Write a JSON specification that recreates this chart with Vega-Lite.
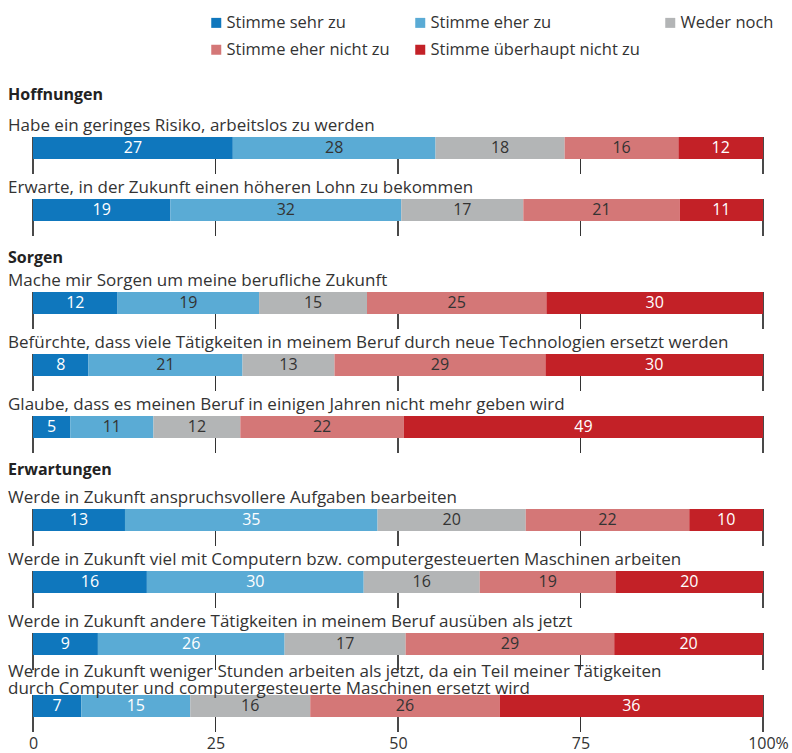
{
  "$schema": "https://vega.github.io/schema/vega-lite/v6.json",
  "background": "white",
  "padding": {"left": 8, "top": 14, "right": 3, "bottom": 5},
  "config": {
    "view": {"stroke": null},
    "font": "Open Sans",
    "text": {"font": "Open Sans", "fontSize": 16},
    "title": {"font": "Open Sans"}
  },
  "datasets": {
    "answers": [
      {"g": "Hoffnungen", "q": "Habe ein geringes Risiko, arbeitslos zu werden", "a": "Stimme sehr zu", "n": 1, "v": 27.4},
      {"g": "Hoffnungen", "q": "Habe ein geringes Risiko, arbeitslos zu werden", "a": "Stimme eher zu", "n": 2, "v": 27.8},
      {"g": "Hoffnungen", "q": "Habe ein geringes Risiko, arbeitslos zu werden", "a": "Weder noch", "n": 3, "v": 17.7},
      {"g": "Hoffnungen", "q": "Habe ein geringes Risiko, arbeitslos zu werden", "a": "Stimme eher nicht zu", "n": 4, "v": 15.6},
      {"g": "Hoffnungen", "q": "Habe ein geringes Risiko, arbeitslos zu werden", "a": "Stimme überhaupt nicht zu", "n": 5, "v": 11.6},
      {"g": "Hoffnungen", "q": "Erwarte, in der Zukunft einen höheren Lohn zu bekommen", "a": "Stimme sehr zu", "n": 1, "v": 18.8},
      {"g": "Hoffnungen", "q": "Erwarte, in der Zukunft einen höheren Lohn zu bekommen", "a": "Stimme eher zu", "n": 2, "v": 31.6},
      {"g": "Hoffnungen", "q": "Erwarte, in der Zukunft einen höheren Lohn zu bekommen", "a": "Weder noch", "n": 3, "v": 16.7},
      {"g": "Hoffnungen", "q": "Erwarte, in der Zukunft einen höheren Lohn zu bekommen", "a": "Stimme eher nicht zu", "n": 4, "v": 21.4},
      {"g": "Hoffnungen", "q": "Erwarte, in der Zukunft einen höheren Lohn zu bekommen", "a": "Stimme überhaupt nicht zu", "n": 5, "v": 11.4},
      {"g": "Sorgen", "q": "Mache mir Sorgen um meine berufliche Zukunft", "a": "Stimme sehr zu", "n": 1, "v": 11.6},
      {"g": "Sorgen", "q": "Mache mir Sorgen um meine berufliche Zukunft", "a": "Stimme eher zu", "n": 2, "v": 19.4},
      {"g": "Sorgen", "q": "Mache mir Sorgen um meine berufliche Zukunft", "a": "Weder noch", "n": 3, "v": 14.8},
      {"g": "Sorgen", "q": "Mache mir Sorgen um meine berufliche Zukunft", "a": "Stimme eher nicht zu", "n": 4, "v": 24.6},
      {"g": "Sorgen", "q": "Mache mir Sorgen um meine berufliche Zukunft", "a": "Stimme überhaupt nicht zu", "n": 5, "v": 29.7},
      {"g": "Sorgen", "q": "Befürchte, dass viele Tätigkeiten in meinem Beruf durch neue Technologien ersetzt werden", "a": "Stimme sehr zu", "n": 1, "v": 7.6},
      {"g": "Sorgen", "q": "Befürchte, dass viele Tätigkeiten in meinem Beruf durch neue Technologien ersetzt werden", "a": "Stimme eher zu", "n": 2, "v": 21.1},
      {"g": "Sorgen", "q": "Befürchte, dass viele Tätigkeiten in meinem Beruf durch neue Technologien ersetzt werden", "a": "Weder noch", "n": 3, "v": 12.6},
      {"g": "Sorgen", "q": "Befürchte, dass viele Tätigkeiten in meinem Beruf durch neue Technologien ersetzt werden", "a": "Stimme eher nicht zu", "n": 4, "v": 28.9},
      {"g": "Sorgen", "q": "Befürchte, dass viele Tätigkeiten in meinem Beruf durch neue Technologien ersetzt werden", "a": "Stimme überhaupt nicht zu", "n": 5, "v": 29.8},
      {"g": "Sorgen", "q": "Glaube, dass es meinen Beruf in einigen Jahren nicht mehr geben wird", "a": "Stimme sehr zu", "n": 1, "v": 5.1},
      {"g": "Sorgen", "q": "Glaube, dass es meinen Beruf in einigen Jahren nicht mehr geben wird", "a": "Stimme eher zu", "n": 2, "v": 11.4},
      {"g": "Sorgen", "q": "Glaube, dass es meinen Beruf in einigen Jahren nicht mehr geben wird", "a": "Weder noch", "n": 3, "v": 11.9},
      {"g": "Sorgen", "q": "Glaube, dass es meinen Beruf in einigen Jahren nicht mehr geben wird", "a": "Stimme eher nicht zu", "n": 4, "v": 22.4},
      {"g": "Sorgen", "q": "Glaube, dass es meinen Beruf in einigen Jahren nicht mehr geben wird", "a": "Stimme überhaupt nicht zu", "n": 5, "v": 49.2},
      {"g": "Erwartungen", "q": "Werde in Zukunft anspruchsvollere Aufgaben bearbeiten", "a": "Stimme sehr zu", "n": 1, "v": 12.6},
      {"g": "Erwartungen", "q": "Werde in Zukunft anspruchsvollere Aufgaben bearbeiten", "a": "Stimme eher zu", "n": 2, "v": 34.6},
      {"g": "Erwartungen", "q": "Werde in Zukunft anspruchsvollere Aufgaben bearbeiten", "a": "Weder noch", "n": 3, "v": 20.3},
      {"g": "Erwartungen", "q": "Werde in Zukunft anspruchsvollere Aufgaben bearbeiten", "a": "Stimme eher nicht zu", "n": 4, "v": 22.4},
      {"g": "Erwartungen", "q": "Werde in Zukunft anspruchsvollere Aufgaben bearbeiten", "a": "Stimme überhaupt nicht zu", "n": 5, "v": 10.1},
      {"g": "Erwartungen", "q": "Werde in Zukunft viel mit Computern bzw. computergesteuerten Maschinen arbeiten", "a": "Stimme sehr zu", "n": 1, "v": 15.6},
      {"g": "Erwartungen", "q": "Werde in Zukunft viel mit Computern bzw. computergesteuerten Maschinen arbeiten", "a": "Stimme eher zu", "n": 2, "v": 29.7},
      {"g": "Erwartungen", "q": "Werde in Zukunft viel mit Computern bzw. computergesteuerten Maschinen arbeiten", "a": "Weder noch", "n": 3, "v": 15.9},
      {"g": "Erwartungen", "q": "Werde in Zukunft viel mit Computern bzw. computergesteuerten Maschinen arbeiten", "a": "Stimme eher nicht zu", "n": 4, "v": 18.6},
      {"g": "Erwartungen", "q": "Werde in Zukunft viel mit Computern bzw. computergesteuerten Maschinen arbeiten", "a": "Stimme überhaupt nicht zu", "n": 5, "v": 20.2},
      {"g": "Erwartungen", "q": "Werde in Zukunft andere Tätigkeiten in meinem Beruf ausüben als jetzt", "a": "Stimme sehr zu", "n": 1, "v": 8.9},
      {"g": "Erwartungen", "q": "Werde in Zukunft andere Tätigkeiten in meinem Beruf ausüben als jetzt", "a": "Stimme eher zu", "n": 2, "v": 25.6},
      {"g": "Erwartungen", "q": "Werde in Zukunft andere Tätigkeiten in meinem Beruf ausüben als jetzt", "a": "Weder noch", "n": 3, "v": 16.6},
      {"g": "Erwartungen", "q": "Werde in Zukunft andere Tätigkeiten in meinem Beruf ausüben als jetzt", "a": "Stimme eher nicht zu", "n": 4, "v": 28.6},
      {"g": "Erwartungen", "q": "Werde in Zukunft andere Tätigkeiten in meinem Beruf ausüben als jetzt", "a": "Stimme überhaupt nicht zu", "n": 5, "v": 20.4},
      {"g": "Erwartungen", "q": "Werde in Zukunft weniger Stunden arbeiten als jetzt, da ein Teil meiner Tätigkeiten\ndurch Computer und computergesteuerte Maschinen ersetzt wird", "a": "Stimme sehr zu", "n": 1, "v": 6.6},
      {"g": "Erwartungen", "q": "Werde in Zukunft weniger Stunden arbeiten als jetzt, da ein Teil meiner Tätigkeiten\ndurch Computer und computergesteuerte Maschinen ersetzt wird", "a": "Stimme eher zu", "n": 2, "v": 14.9},
      {"g": "Erwartungen", "q": "Werde in Zukunft weniger Stunden arbeiten als jetzt, da ein Teil meiner Tätigkeiten\ndurch Computer und computergesteuerte Maschinen ersetzt wird", "a": "Weder noch", "n": 3, "v": 16.4},
      {"g": "Erwartungen", "q": "Werde in Zukunft weniger Stunden arbeiten als jetzt, da ein Teil meiner Tätigkeiten\ndurch Computer und computergesteuerte Maschinen ersetzt wird", "a": "Stimme eher nicht zu", "n": 4, "v": 25.9},
      {"g": "Erwartungen", "q": "Werde in Zukunft weniger Stunden arbeiten als jetzt, da ein Teil meiner Tätigkeiten\ndurch Computer und computergesteuerte Maschinen ersetzt wird", "a": "Stimme überhaupt nicht zu", "n": 5, "v": 36.0}
    ]
  },
  "vconcat": [
    {
      "width": 730,
      "height": {"step": 62},
      "data": {"name": "answers"},
      "transform": [{"filter": "datum.g === 'Hoffnungen'"}],
      "title": {"text": "Hoffnungen", "anchor": "start", "frame": "group", "dx": -25, "dy": 17, "offset": 11, "baseline": "alphabetic", "fontSize": 16, "fontWeight": "bold", "color": "#222222"},
      "encoding": {"y": {"field": "q", "type": "nominal", "sort": null, "axis": null, "scale": {"paddingInner": 0, "paddingOuter": 0}}},
      "layer": [
        {"mark": {"type": "tick", "orient": "vertical", "size": 37, "thickness": 1, "color": "#333333", "yOffset": 14.5}, "encoding": {"x": {"datum": 0, "type": "quantitative", "axis": null}}},
        {"mark": {"type": "tick", "orient": "vertical", "size": 37, "thickness": 1, "color": "#333333", "yOffset": 14.5}, "encoding": {"x": {"datum": 0.25, "type": "quantitative", "axis": null}}},
        {"mark": {"type": "tick", "orient": "vertical", "size": 37, "thickness": 1, "color": "#333333", "yOffset": 14.5}, "encoding": {"x": {"datum": 0.5, "type": "quantitative", "axis": null}}},
        {"mark": {"type": "tick", "orient": "vertical", "size": 37, "thickness": 1, "color": "#333333", "yOffset": 14.5}, "encoding": {"x": {"datum": 0.75, "type": "quantitative", "axis": null}}},
        {"mark": {"type": "tick", "orient": "vertical", "size": 37, "thickness": 1, "color": "#333333", "yOffset": 14.5}, "encoding": {"x": {"datum": 1, "type": "quantitative", "axis": null}}},
        {
          "mark": {"type": "bar", "height": 22, "yOffset": 7},
          "encoding": {
            "x": {"field": "v", "type": "quantitative", "stack": "normalize", "scale": {"domain": [0, 1], "nice": false}, "axis": null},
            "order": {"field": "n"},
            "color": {"field": "a", "type": "nominal",
              "scale": {"domain": ["Stimme sehr zu", "Stimme eher zu", "Weder noch", "Stimme eher nicht zu", "Stimme überhaupt nicht zu"], "range": ["#0f77bd", "#5aabd5", "#b3b5b6", "#d47777", "#c32127"]},
              "legend": {"orient": "none", "legendX": 175, "legendY": -95.5, "direction": "horizontal", "columns": 3, "title": null, "symbolType": "square", "symbolSize": 100, "symbolStrokeWidth": 0, "labelFont": "Open Sans", "labelFontSize": 16.5, "labelColor": "#333333", "rowPadding": 10, "columnPadding": 22, "labelOffset": 2, "padding": 0, "labelLimit": 400}}
          }
        },
        {
          "mark": {"type": "text", "yOffset": 7, "baseline": "middle", "fontSize": 16},
          "encoding": {
            "x": {"field": "v", "type": "quantitative", "stack": "normalize", "bandPosition": 0.5, "axis": null},
            "order": {"field": "n"},
            "detail": {"field": "a"},
            "text": {"field": "v", "format": ".0f"},
            "color": {"condition": {"test": "datum.n === 1 || datum.n === 5 || (datum.n === 2 && datum.g === 'Erwartungen')", "value": "#ffffff"}, "value": "#333333"}
          }
        },
        {
          "transform": [{"filter": "datum.n === 1"}],
          "mark": {"type": "text", "align": "left", "baseline": "bottom", "dx": -25, "yOffset": -6, "fontSize": 17, "color": "#333333"},
          "encoding": {"x": {"datum": 0, "type": "quantitative", "axis": null}, "text": {"field": "q"}}
        }
      ]
    },
    {
      "width": 730,
      "height": {"step": 62},
      "data": {"name": "answers"},
      "transform": [{"filter": "datum.g === 'Sorgen'"}],
      "title": {"text": "Sorgen", "anchor": "start", "frame": "group", "dx": -25, "dy": 17, "offset": 3, "baseline": "alphabetic", "fontSize": 16, "fontWeight": "bold", "color": "#222222"},
      "encoding": {"y": {"field": "q", "type": "nominal", "sort": null, "axis": null, "scale": {"paddingInner": 0, "paddingOuter": 0}}},
      "layer": [
        {"mark": {"type": "tick", "orient": "vertical", "size": 37, "thickness": 1, "color": "#333333", "yOffset": 14.5}, "encoding": {"x": {"datum": 0, "type": "quantitative", "axis": null}}},
        {"mark": {"type": "tick", "orient": "vertical", "size": 37, "thickness": 1, "color": "#333333", "yOffset": 14.5}, "encoding": {"x": {"datum": 0.25, "type": "quantitative", "axis": null}}},
        {"mark": {"type": "tick", "orient": "vertical", "size": 37, "thickness": 1, "color": "#333333", "yOffset": 14.5}, "encoding": {"x": {"datum": 0.5, "type": "quantitative", "axis": null}}},
        {"mark": {"type": "tick", "orient": "vertical", "size": 37, "thickness": 1, "color": "#333333", "yOffset": 14.5}, "encoding": {"x": {"datum": 0.75, "type": "quantitative", "axis": null}}},
        {"mark": {"type": "tick", "orient": "vertical", "size": 37, "thickness": 1, "color": "#333333", "yOffset": 14.5}, "encoding": {"x": {"datum": 1, "type": "quantitative", "axis": null}}},
        {
          "mark": {"type": "bar", "height": 22, "yOffset": 7},
          "encoding": {
            "x": {"field": "v", "type": "quantitative", "stack": "normalize", "scale": {"domain": [0, 1], "nice": false}, "axis": null},
            "order": {"field": "n"},
            "color": {"field": "a", "type": "nominal",
              "scale": {"domain": ["Stimme sehr zu", "Stimme eher zu", "Weder noch", "Stimme eher nicht zu", "Stimme überhaupt nicht zu"], "range": ["#0f77bd", "#5aabd5", "#b3b5b6", "#d47777", "#c32127"]},
              "legend": {"orient": "none", "legendX": 175, "legendY": -95.5, "direction": "horizontal", "columns": 3, "title": null, "symbolType": "square", "symbolSize": 100, "symbolStrokeWidth": 0, "labelFont": "Open Sans", "labelFontSize": 16.5, "labelColor": "#333333", "rowPadding": 10, "columnPadding": 22, "labelOffset": 2, "padding": 0, "labelLimit": 400}}
          }
        },
        {
          "mark": {"type": "text", "yOffset": 7, "baseline": "middle", "fontSize": 16},
          "encoding": {
            "x": {"field": "v", "type": "quantitative", "stack": "normalize", "bandPosition": 0.5, "axis": null},
            "order": {"field": "n"},
            "detail": {"field": "a"},
            "text": {"field": "v", "format": ".0f"},
            "color": {"condition": {"test": "datum.n === 1 || datum.n === 5 || (datum.n === 2 && datum.g === 'Erwartungen')", "value": "#ffffff"}, "value": "#333333"}
          }
        },
        {
          "transform": [{"filter": "datum.n === 1"}],
          "mark": {"type": "text", "align": "left", "baseline": "bottom", "dx": -25, "yOffset": -6, "fontSize": 17, "color": "#333333"},
          "encoding": {"x": {"datum": 0, "type": "quantitative", "axis": null}, "text": {"field": "q"}}
        }
      ]
    },
    {
      "width": 730,
      "height": {"step": 62},
      "data": {"name": "answers"},
      "transform": [{"filter": "datum.g === 'Erwartungen'"}],
      "title": {"text": "Erwartungen", "anchor": "start", "frame": "group", "dx": -25, "dy": 17, "offset": 8, "baseline": "alphabetic", "fontSize": 16, "fontWeight": "bold", "color": "#222222"},
      "encoding": {"y": {"field": "q", "type": "nominal", "sort": null, "axis": null, "scale": {"paddingInner": 0, "paddingOuter": 0}}},
      "layer": [
        {"mark": {"type": "tick", "orient": "vertical", "size": 37, "thickness": 1, "color": "#333333", "yOffset": 14.5}, "encoding": {"x": {"datum": 0, "type": "quantitative", "axis": {"values": [0, 0.25, 0.5, 0.75, 1], "labelExpr": "datum.value === 1 ? '100%' : format(datum.value * 100, 'd')", "title": null, "ticks": false, "domain": false, "grid": false, "labelFlush": false, "labelOffset": {"condition": {"test": "datum.value === 1", "value": 5}, "value": 0}, "labelPadding": 5, "labelFont": "Open Sans", "labelFontSize": 16, "labelColor": "#333333"}}}},
        {"mark": {"type": "tick", "orient": "vertical", "size": 37, "thickness": 1, "color": "#333333", "yOffset": 14.5}, "encoding": {"x": {"datum": 0.25, "type": "quantitative", "axis": {"values": [0, 0.25, 0.5, 0.75, 1], "labelExpr": "datum.value === 1 ? '100%' : format(datum.value * 100, 'd')", "title": null, "ticks": false, "domain": false, "grid": false, "labelFlush": false, "labelOffset": {"condition": {"test": "datum.value === 1", "value": 5}, "value": 0}, "labelPadding": 5, "labelFont": "Open Sans", "labelFontSize": 16, "labelColor": "#333333"}}}},
        {"mark": {"type": "tick", "orient": "vertical", "size": 37, "thickness": 1, "color": "#333333", "yOffset": 14.5}, "encoding": {"x": {"datum": 0.5, "type": "quantitative", "axis": {"values": [0, 0.25, 0.5, 0.75, 1], "labelExpr": "datum.value === 1 ? '100%' : format(datum.value * 100, 'd')", "title": null, "ticks": false, "domain": false, "grid": false, "labelFlush": false, "labelOffset": {"condition": {"test": "datum.value === 1", "value": 5}, "value": 0}, "labelPadding": 5, "labelFont": "Open Sans", "labelFontSize": 16, "labelColor": "#333333"}}}},
        {"mark": {"type": "tick", "orient": "vertical", "size": 37, "thickness": 1, "color": "#333333", "yOffset": 14.5}, "encoding": {"x": {"datum": 0.75, "type": "quantitative", "axis": {"values": [0, 0.25, 0.5, 0.75, 1], "labelExpr": "datum.value === 1 ? '100%' : format(datum.value * 100, 'd')", "title": null, "ticks": false, "domain": false, "grid": false, "labelFlush": false, "labelOffset": {"condition": {"test": "datum.value === 1", "value": 5}, "value": 0}, "labelPadding": 5, "labelFont": "Open Sans", "labelFontSize": 16, "labelColor": "#333333"}}}},
        {"mark": {"type": "tick", "orient": "vertical", "size": 37, "thickness": 1, "color": "#333333", "yOffset": 14.5}, "encoding": {"x": {"datum": 1, "type": "quantitative", "axis": {"values": [0, 0.25, 0.5, 0.75, 1], "labelExpr": "datum.value === 1 ? '100%' : format(datum.value * 100, 'd')", "title": null, "ticks": false, "domain": false, "grid": false, "labelFlush": false, "labelOffset": {"condition": {"test": "datum.value === 1", "value": 5}, "value": 0}, "labelPadding": 5, "labelFont": "Open Sans", "labelFontSize": 16, "labelColor": "#333333"}}}},
        {
          "mark": {"type": "bar", "height": 22, "yOffset": 7},
          "encoding": {
            "x": {"field": "v", "type": "quantitative", "stack": "normalize", "scale": {"domain": [0, 1], "nice": false},
              "axis": {"values": [0, 0.25, 0.5, 0.75, 1], "labelExpr": "datum.value === 1 ? '100%' : format(datum.value * 100, 'd')", "title": null, "ticks": false, "domain": false, "grid": false, "labelFlush": false, "labelOffset": {"condition": {"test": "datum.value === 1", "value": 5}, "value": 0}, "labelPadding": 5, "labelFont": "Open Sans", "labelFontSize": 16, "labelColor": "#333333"}},
            "order": {"field": "n"},
            "color": {"field": "a", "type": "nominal",
              "scale": {"domain": ["Stimme sehr zu", "Stimme eher zu", "Weder noch", "Stimme eher nicht zu", "Stimme überhaupt nicht zu"], "range": ["#0f77bd", "#5aabd5", "#b3b5b6", "#d47777", "#c32127"]},
              "legend": {"orient": "none", "legendX": 175, "legendY": -95.5, "direction": "horizontal", "columns": 3, "title": null, "symbolType": "square", "symbolSize": 100, "symbolStrokeWidth": 0, "labelFont": "Open Sans", "labelFontSize": 16.5, "labelColor": "#333333", "rowPadding": 10, "columnPadding": 22, "labelOffset": 2, "padding": 0, "labelLimit": 400}}
          }
        },
        {
          "mark": {"type": "text", "yOffset": 7, "baseline": "middle", "fontSize": 16},
          "encoding": {
            "x": {"field": "v", "type": "quantitative", "stack": "normalize", "bandPosition": 0.5,
              "axis": {"values": [0, 0.25, 0.5, 0.75, 1], "labelExpr": "datum.value === 1 ? '100%' : format(datum.value * 100, 'd')", "title": null, "ticks": false, "domain": false, "grid": false, "labelFlush": false, "labelOffset": {"condition": {"test": "datum.value === 1", "value": 5}, "value": 0}, "labelPadding": 5, "labelFont": "Open Sans", "labelFontSize": 16, "labelColor": "#333333"}},
            "order": {"field": "n"},
            "detail": {"field": "a"},
            "text": {"field": "v", "format": ".0f"},
            "color": {"condition": {"test": "datum.n === 1 || datum.n === 5 || (datum.n === 2 && datum.g === 'Erwartungen')", "value": "#ffffff"}, "value": "#333333"}
          }
        },
        {
          "transform": [{"filter": "datum.n === 1 && length(datum.q) < 100"}],
          "mark": {"type": "text", "align": "left", "baseline": "bottom", "dx": -25, "yOffset": -6, "fontSize": 17, "color": "#333333"},
          "encoding": {"x": {"datum": 0, "type": "quantitative",
              "axis": {"values": [0, 0.25, 0.5, 0.75, 1], "labelExpr": "datum.value === 1 ? '100%' : format(datum.value * 100, 'd')", "title": null, "ticks": false, "domain": false, "grid": false, "labelFlush": false, "labelOffset": {"condition": {"test": "datum.value === 1", "value": 5}, "value": 0}, "labelPadding": 5, "labelFont": "Open Sans", "labelFontSize": 16, "labelColor": "#333333"}}, "text": {"field": "q"}}
        },
        {
          "transform": [{"filter": "datum.n === 1 && length(datum.q) >= 100"}],
          "mark": {"type": "text", "align": "left", "baseline": "bottom", "dx": -25, "yOffset": -18, "fontSize": 17, "color": "#333333", "lineBreak": "\n", "lineHeight": 17},
          "encoding": {"x": {"datum": 0, "type": "quantitative",
              "axis": {"values": [0, 0.25, 0.5, 0.75, 1], "labelExpr": "datum.value === 1 ? '100%' : format(datum.value * 100, 'd')", "title": null, "ticks": false, "domain": false, "grid": false, "labelFlush": false, "labelOffset": {"condition": {"test": "datum.value === 1", "value": 5}, "value": 0}, "labelPadding": 5, "labelFont": "Open Sans", "labelFontSize": 16, "labelColor": "#333333"}}, "text": {"field": "q"}}
        }
      ]
    }
  ],
  "bounds": "flush",
  "spacing": 31
}
